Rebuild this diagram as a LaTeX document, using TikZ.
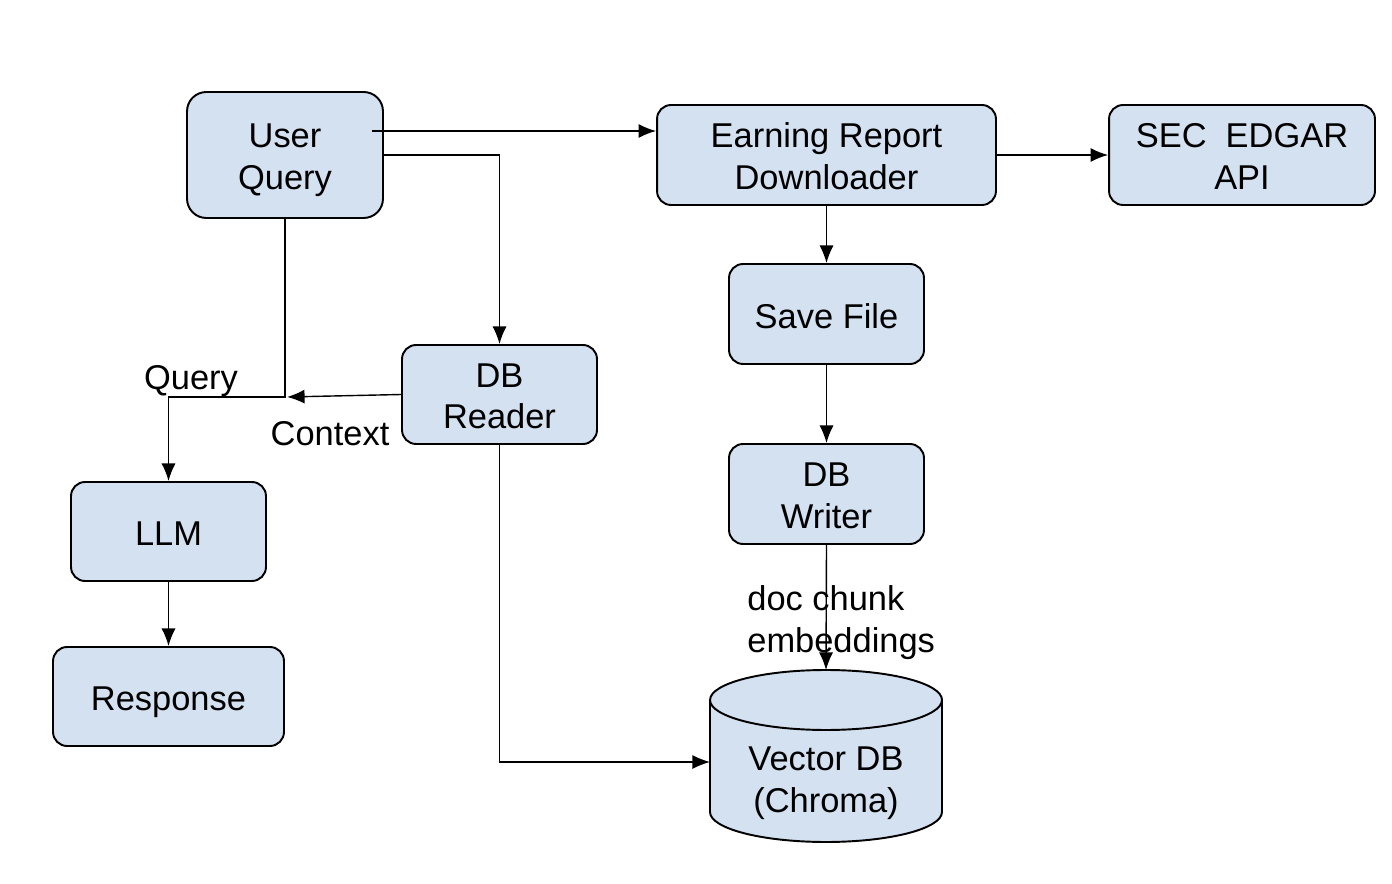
\documentclass[tikz,border=0pt]{standalone}
\usepackage{fontspec}
\setmainfont{Liberation Sans}
\usetikzlibrary{arrows.meta}
\definecolor{boxblue}{RGB}{212,225,240}
\newcommand{\topgap}{\rule{0pt}{20.4pt}}
\tikzset{
  block/.style={draw, line width=1.1pt, fill=boxblue, rounded corners=8pt, align=center, inner sep=0pt,
    execute at begin node=\rule{0pt}{21.5pt}, execute at end node=\rule[-5pt]{0pt}{5pt}},
  conn/.style={->, line width=0.8pt},
  lbl/.style={inner sep=0pt, align=left},
}
\begin{document}
\begin{tikzpicture}[>={Latex[length=10pt,width=8pt]}, x=0.02cm, y=-0.02cm, font=\fontsize{19.6}{23.8}\selectfont]
\useasboundingbox (0,0) rectangle (1392,884);

\node(UQ)[block, rounded corners=11pt, minimum width=3.92cm, minimum height=2.52cm] at (285,155) {\topgap User\\Query};
\node(ERD)[block, minimum width=6.78cm, minimum height=2cm] at (826.5,155) {\topgap Earning Report\\Downloader};
\node(SEC)[block, minimum width=5.32cm, minimum height=2cm] at (1242,155) {\topgap SEC\ \ EDGAR\\API};
\node(SF)[block, minimum width=3.9cm, minimum height=2cm] at (826.5,314) {Save File};
\node(DBW)[block, minimum width=3.9cm, minimum height=2cm] at (826.5,494) {\topgap DB\\Writer};
\node(DBR)[block, minimum width=3.9cm, minimum height=1.98cm] at (499.5,394.5) {\topgap DB\\Reader};
\node(LLM)[block, minimum width=3.9cm, minimum height=1.98cm] at (168.5,531.5) {LLM};
\node(Resp)[block, minimum width=4.62cm, minimum height=1.98cm] at (168.5,696.5) {Response};

% vector store
\draw[line width=1.1pt, fill=boxblue] (710,700) -- (710,812)
  arc[start angle=180, end angle=360, x radius=2.32cm, y radius=0.6cm] -- (942,700)
  arc[start angle=0, end angle=180, x radius=2.32cm, y radius=0.6cm] -- cycle;
\draw[line width=1.1pt] (710,700) arc[start angle=180, end angle=360, x radius=2.32cm, y radius=0.6cm];
\node(VDB)[align=center, inner sep=0pt] at (826,783) {Vector DB\\(Chroma)};
\coordinate(VDBtop) at (826,670);
\coordinate(VDBleft) at (710,762);
\coordinate(split) at (285,397);

\draw[conn] ([xshift=-0.24cm,yshift=0.48cm]UQ.east) -- ([yshift=0.48cm]ERD.west);
\draw[conn] (UQ.east) -| (DBR.north);
\draw[conn] (UQ.south) -- (split) -| (LLM.north);
\draw[conn] (DBR.west) -- ([xshift=0.04cm]split);
\draw[conn] (ERD.east) -- (SEC.west);
\draw[conn] (ERD.south) -- (SF.north);
\draw[conn] (SF.south) -- (DBW.north);
\draw[conn] (DBW.south) -- (VDBtop);
\draw[conn] (DBR.south) |- (VDBleft);
\draw[conn] (LLM.south) -- (Resp.north);

\node(qlbl)[lbl] at (191,381) {Query};
\node(ctxlbl)[lbl] at (330,434) {Context};
\node(emblbl)[lbl, anchor=west] at (747,623) {doc chunk\\embeddings};
\end{tikzpicture}
\end{document}
